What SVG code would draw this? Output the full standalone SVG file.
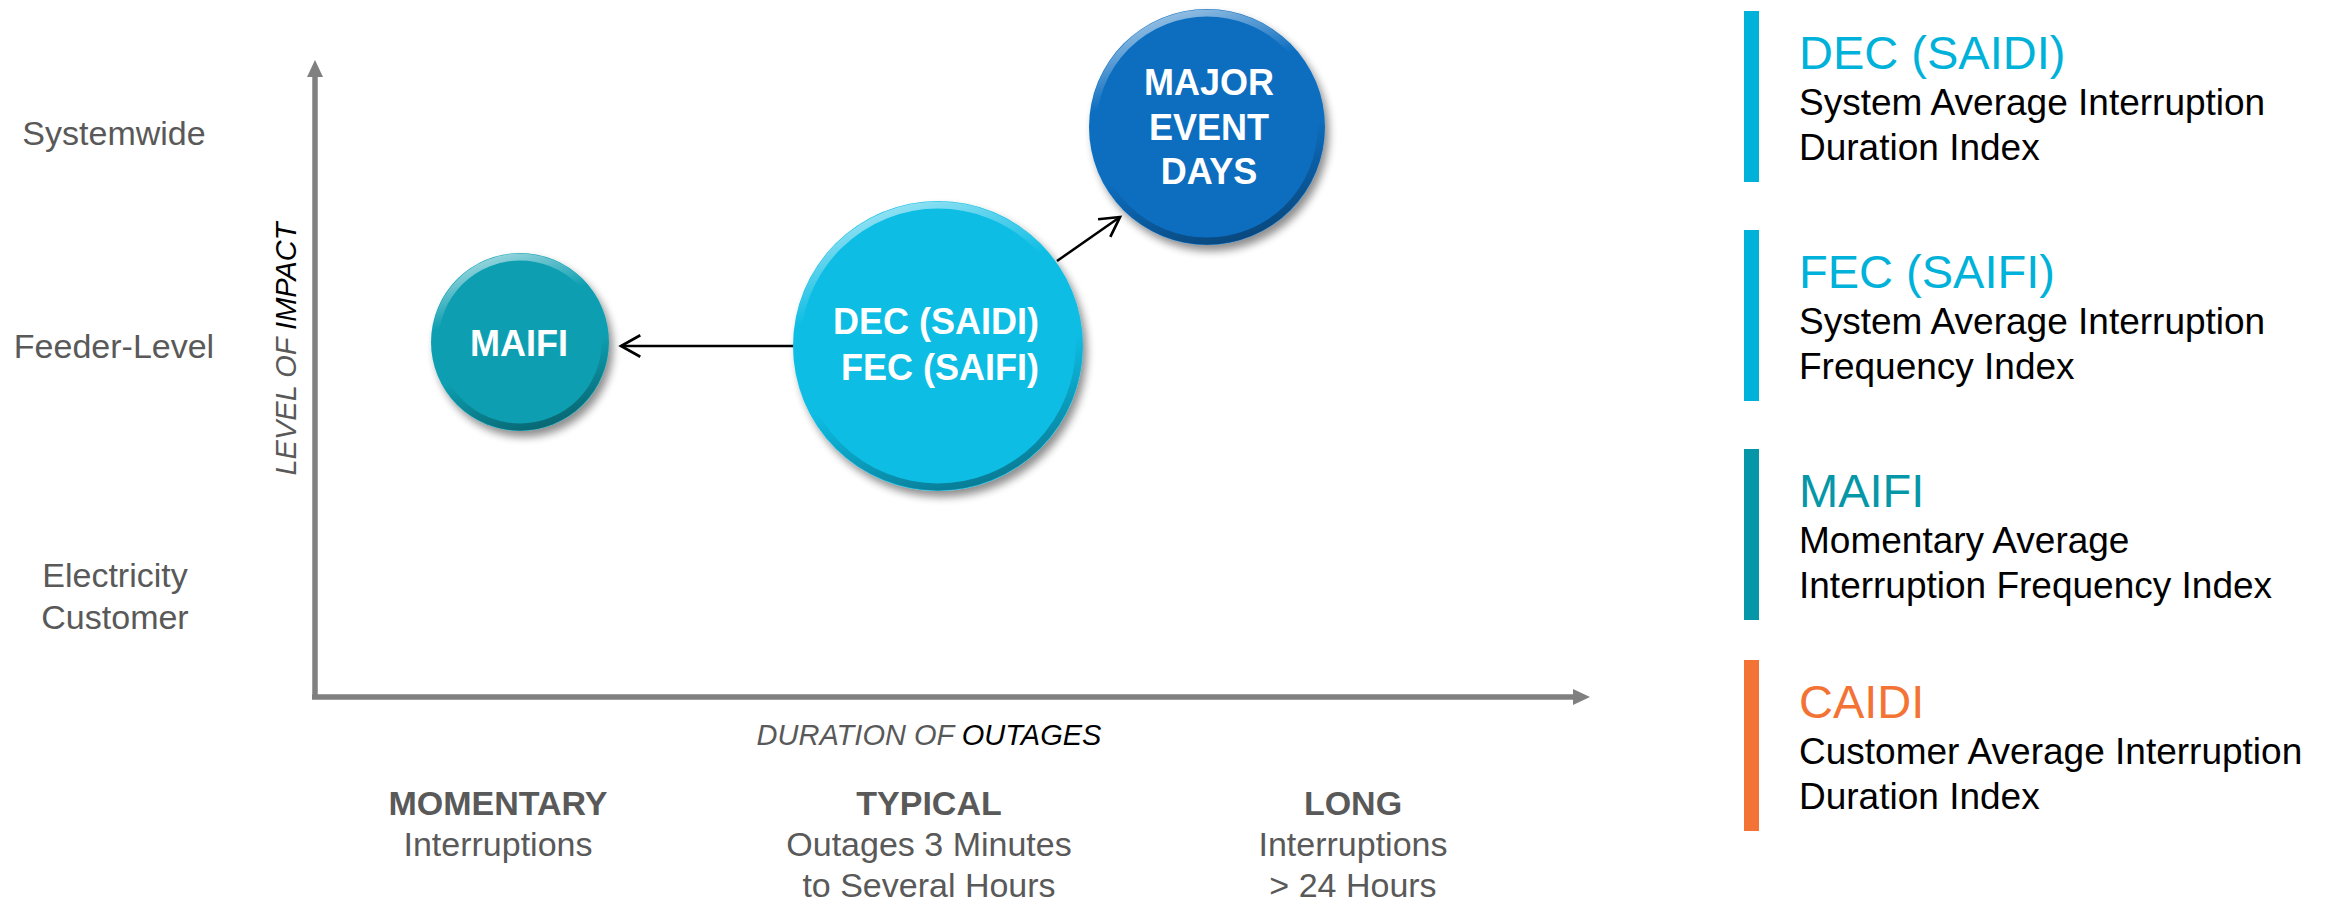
<svg xmlns="http://www.w3.org/2000/svg" width="2336" height="906" viewBox="0 0 2336 906">
  <style>
    .lvl { font-family: "Liberation Sans", Arial, sans-serif; font-size: 34px; fill: #595959; text-anchor: middle; }
    .axis-title { font-family: "Liberation Sans", Arial, sans-serif; font-size: 29px; font-style: italic; fill: #595959; text-anchor: middle; }
    .axis-title .em { fill: #000000; }
    .cat { font-family: "Liberation Sans", Arial, sans-serif; font-size: 34px; fill: #595959; text-anchor: middle; }
    .cat-head { font-weight: bold; }
    .node-label { font-family: "Liberation Sans", Arial, sans-serif; font-size: 36px; font-weight: bold; fill: #ffffff; text-anchor: middle; }
    .axis { stroke: #808080; stroke-width: 5.5; fill: none; }
    .axis-head { fill: #808080; }
    .conn { stroke: #000000; stroke-width: 2.5; fill: none; marker-end: url(#openArrow); }
    .rim { fill: none; stroke: url(#bevel); stroke-width: 7; }
    .key-title { font-family: "Liberation Sans", Arial, sans-serif; font-size: 47px; }
    .key-desc { font-family: "Liberation Sans", Arial, sans-serif; font-size: 37px; fill: #000000; }
  </style>
  <defs>
    <marker id="openArrow" markerUnits="userSpaceOnUse" markerWidth="30" markerHeight="30" viewBox="-22 -14 26 28" refX="0" refY="0" orient="auto">
      <path d="M -18 -10 L 0 0 L -18 10" fill="none" stroke="#000000" stroke-width="2.5" stroke-linejoin="miter"/>
    </marker>
    <filter id="dropShadow" x="-20%" y="-20%" width="150%" height="150%">
      <feGaussianBlur in="SourceAlpha" stdDeviation="4"/>
      <feOffset dx="4" dy="6" result="off"/>
      <feComponentTransfer><feFuncA type="linear" slope="0.45"/></feComponentTransfer>
      <feMerge><feMergeNode/><feMergeNode in="SourceGraphic"/></feMerge>
    </filter>
    <linearGradient id="bevel" x1="0.35" y1="0" x2="0.65" y2="1">
      <stop offset="0" stop-color="#ffffff" stop-opacity="0.55"/>
      <stop offset="0.3" stop-color="#ffffff" stop-opacity="0"/>
      <stop offset="0.6" stop-color="#000000" stop-opacity="0"/>
      <stop offset="1" stop-color="#000000" stop-opacity="0.35"/>
    </linearGradient>
  </defs>

  <!-- impact levels -->
  <g id="impact-levels">
    <text class="lvl" x="114" y="145">Systemwide</text>
    <text class="lvl" x="114" y="358">Feeder-Level</text>
    <text class="lvl" x="115" y="587">Electricity</text>
    <text class="lvl" x="115" y="629">Customer</text>
  </g>

  <!-- axes -->
  <g id="axes">
    <line class="axis" x1="315" y1="74" x2="315" y2="699"/>
    <polygon class="axis-head" points="315,60 307,77 323,77"/>
    <line class="axis" x1="312" y1="697" x2="1576" y2="697"/>
    <polygon class="axis-head" points="1590,697 1573,689 1573,705"/>
    <text class="axis-title" transform="translate(296,349) rotate(-90)">LEVEL OF <tspan class="em">IMPACT</tspan></text>
    <text class="axis-title" x="929" y="745">DURATION OF <tspan class="em">OUTAGES</tspan></text>
  </g>

  <!-- duration categories -->
  <g id="durations">
    <text class="cat cat-head" x="498" y="815">MOMENTARY</text>
    <text class="cat" x="498" y="856">Interruptions</text>
    <text class="cat cat-head" x="929" y="815">TYPICAL</text>
    <text class="cat" x="929" y="856">Outages 3 Minutes</text>
    <text class="cat" x="929" y="897">to Several Hours</text>
    <text class="cat cat-head" x="1353" y="815">LONG</text>
    <text class="cat" x="1353" y="856">Interruptions</text>
    <text class="cat" x="1353" y="897">&gt; 24 Hours</text>
  </g>

  <!-- connectors -->
  <g id="connectors">
    <line class="conn" x1="795" y1="346" x2="621" y2="346"/>
    <line class="conn" x1="1057" y1="261" x2="1120" y2="217"/>
  </g>

  <!-- bubbles -->
  <g id="node-maifi">
    <circle cx="520" cy="342" r="89" fill="#0A9FB1" filter="url(#dropShadow)"/>
    <circle class="rim" cx="520" cy="342" r="85"/>
    <text class="node-label" x="519" y="356">MAIFI</text>
  </g>

  <g id="node-dec-fec">
    <circle cx="938" cy="346" r="145" fill="#0ABDE4" filter="url(#dropShadow)"/>
    <circle class="rim" cx="938" cy="346" r="141"/>
    <text class="node-label" x="936" y="334">DEC (SAIDI)</text>
    <text class="node-label" x="940" y="380">FEC (SAIFI)</text>
  </g>

  <g id="node-major-event-days">
    <circle cx="1207" cy="127" r="118" fill="#0A6EC0" filter="url(#dropShadow)"/>
    <circle class="rim" cx="1207" cy="127" r="114"/>
    <text class="node-label" x="1209" y="95">MAJOR</text>
    <text class="node-label" x="1209" y="140">EVENT</text>
    <text class="node-label" x="1209" y="184">DAYS</text>
  </g>

  <!-- index key -->
  <g id="key-dec">
    <rect x="1744" y="11" width="15" height="171" fill="#00B2D9"/>
    <text class="key-title" x="1799" y="69" fill="#00B2D9">DEC (SAIDI)</text>
    <text class="key-desc" x="1799" y="115">System Average Interruption</text>
    <text class="key-desc" x="1799" y="160">Duration Index</text>
  </g>
  <g id="key-fec">
    <rect x="1744" y="230" width="15" height="171" fill="#00B2D9"/>
    <text class="key-title" x="1799" y="288" fill="#00B2D9">FEC (SAIFI)</text>
    <text class="key-desc" x="1799" y="334">System Average Interruption</text>
    <text class="key-desc" x="1799" y="379">Frequency Index</text>
  </g>
  <g id="key-maifi">
    <rect x="1744" y="449" width="15" height="171" fill="#0597A8"/>
    <text class="key-title" x="1799" y="507" fill="#0597A8">MAIFI</text>
    <text class="key-desc" x="1799" y="553">Momentary Average</text>
    <text class="key-desc" x="1799" y="598">Interruption Frequency Index</text>
  </g>
  <g id="key-caidi">
    <rect x="1744" y="660" width="15" height="171" fill="#F37335"/>
    <text class="key-title" x="1799" y="718" fill="#F37335">CAIDI</text>
    <text class="key-desc" x="1799" y="764">Customer Average Interruption</text>
    <text class="key-desc" x="1799" y="809">Duration Index</text>
  </g>
</svg>
